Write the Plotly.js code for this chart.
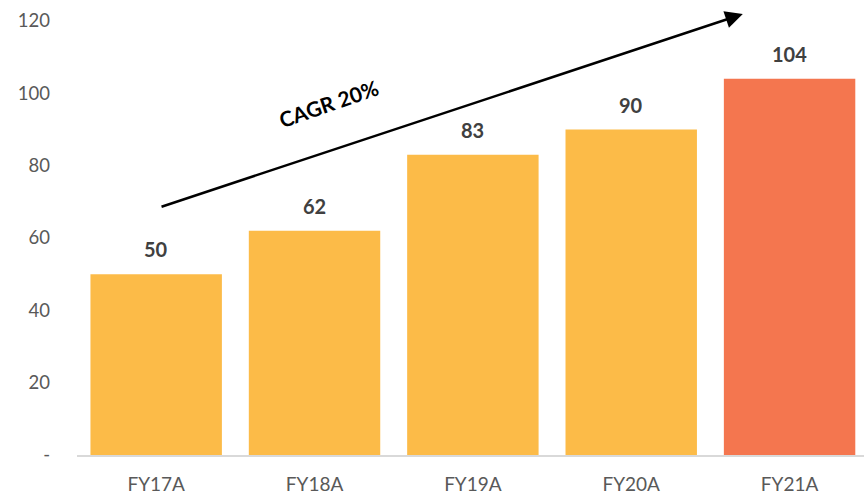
<!DOCTYPE html>
<html><head><meta charset="utf-8">
<script src="https://cdn.plot.ly/plotly-3.0.1.min.js"></script>
<style>html,body{margin:0;padding:0;background:#fff;}</style>
</head><body><div id="chart" style="width:864px;height:496px;"></div>
<script>
const categories = ['FY17A','FY18A','FY19A','FY20A','FY21A'];
const values = [50, 62, 83, 90, 104];
const barColors = ['#FCBB48','#FCBB48','#FCBB48','#FCBB48','#F4764F'];
const yTickVals = [0,20,40,60,80,100,120];
const yTickText = ['-','20','40','60','80','100','120'];
const cagrLabel = 'CAGR 20%';

const FONT = 'Lato, "Open Sans", sans-serif';

const trace = {
  type:'bar', x:categories, y:values,
  marker:{color:barColors}, hoverinfo:'none'
};

const labelAnn = categories.map((c,i)=>({
  x:c, y:values[i], xref:'x', yref:'y', text:String(values[i]),
  showarrow:false, yshift:25, font:{family:FONT, size:20, color:'#404040', weight:'bold'}
}));

const annotations = labelAnn.concat([
  {xref:'paper', yref:'paper', x:0.846, y:1.016, axref:'paper', ayref:'paper', ax:0.1055, ay:0.571,
   showarrow:true, arrowhead:2, arrowsize:1.4, arrowwidth:2.5, arrowcolor:'#000', text:''},
  {xref:'paper', yref:'paper', x:0.319, y:0.809, xanchor:'center', yanchor:'middle',
   text:'<b>'+cagrLabel+'</b>', showarrow:false,
   textangle:-19, font:{family:FONT, size:21, color:'#000'}}
]);

const layout = {
  width:864, height:496,
  margin:{l:77, r:0, t:21, b:41},
  paper_bgcolor:'#fff', plot_bgcolor:'#fff',
  showlegend:false, bargap:0.17,
  xaxis:{range:[-0.5,4.47], showline:true, linecolor:'#d9d9d9', linewidth:1.5,
    ticks:'', showgrid:false, zeroline:false, ticklabelstandoff:12,
    tickfont:{family:FONT, size:19, color:'#595959'}},
  yaxis:{range:[0,120], tickvals:yTickVals, ticktext:yTickText, showgrid:false, zeroline:false,
    showline:false, ticks:'', ticklabelstandoff:26,
    tickfont:{family:FONT, size:18.5, color:'#595959'}},
  annotations:annotations
};
Plotly.newPlot('chart',[trace],layout,{displayModeBar:false, staticPlot:true});
</script></body></html>
